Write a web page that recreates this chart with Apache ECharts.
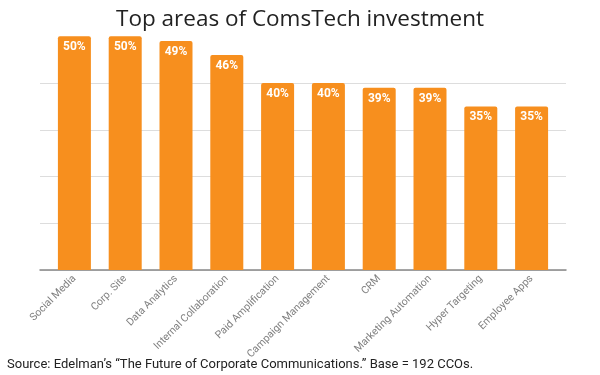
<!DOCTYPE html>
<html>
<head>
<meta charset="utf-8">
<script src="https://cdn.jsdelivr.net/npm/echarts@6/dist/echarts.min.js"></script>
<style>
  html, body { margin: 0; padding: 0; background: #fff; }
  #chart { width: 600px; height: 375px; }
</style>
</head>
<body>
<div id="chart"></div>
<script>
// data
var categories = ['Social Media', 'Corp. Site', 'Data Analytics', 'Internal Collaboration',
  'Paid Amplification', 'Campaign Management', 'CRM', 'Marketing Automation',
  'Hyper Targeting', 'Employee Apps'];
var shares = [50, 50, 49, 46, 40, 40, 39, 39, 35, 35];
var yTicks = [0, 10, 20, 30, 40, 50];

var myChart = echarts.init(document.getElementById('chart'));

myChart.setOption({
  animation: false,
  title: [{
    text: 'Top areas of ComsTech investment',
    left: 'center',
    top: 3,
    textStyle: { fontFamily: 'Open Sans', fontSize: 22.5, fontWeight: 'normal', color: '#222' }
  }, {
    text: 'Source: Edelman\u2019s \u201cThe Future of Corporate Communications.\u201d Base = 192 CCOs.',
    left: 2,
    top: 353,
    textStyle: { fontFamily: 'Roboto', fontSize: 13, fontWeight: 'normal', color: '#222' }
  }],
  // grid 0 carries the gridlines and baseline, grid 1 the bars (a bit narrower)
  grid: [
    { left: 40, right: 34, top: 36.25, bottom: 105 },
    { left: 49, right: 43, top: 36.25, bottom: 105 }
  ],
  xAxis: [{
    type: 'category',
    gridIndex: 0,
    data: categories,
    axisLine: { lineStyle: { color: '#888', width: 1.5 } },
    axisTick: { show: false },
    axisLabel: { show: false }
  }, {
    type: 'category',
    gridIndex: 1,
    data: categories,
    axisLine: { show: false },
    axisTick: { show: false },
    axisLabel: {
      interval: 0,
      rotate: 45,
      margin: 7,
      fontFamily: 'Roboto',
      fontSize: 10.5,
      color: '#808080'
    }
  }],
  yAxis: [{
    type: 'value',
    gridIndex: 0,
    min: yTicks[0],
    max: yTicks[yTicks.length - 1],
    interval: 10,
    axisLabel: { show: false },
    axisLine: { show: false },
    axisTick: { show: false },
    splitLine: { lineStyle: { color: ['#ddd', '#ddd', '#ddd', '#ddd', '#ddd', 'rgba(0,0,0,0)'], width: 1 } }
  }, {
    type: 'value',
    gridIndex: 1,
    min: yTicks[0],
    max: yTicks[yTicks.length - 1],
    interval: 10,
    show: false
  }],
  series: [{
    type: 'bar',
    xAxisIndex: 1,
    yAxisIndex: 1,
    data: shares,
    barWidth: 33,
    itemStyle: { color: '#F78F1E', borderRadius: [2, 2, 0, 0] },
    label: {
      show: true,
      position: 'insideTop',
      distance: 5,
      formatter: '{c}%',
      fontFamily: 'Roboto',
      fontSize: 12,
      fontWeight: 'bold',
      color: '#fff'
    }
  }]
});

window.onresize = function () {
  myChart.resize();
};
</script>
</body>
</html>
